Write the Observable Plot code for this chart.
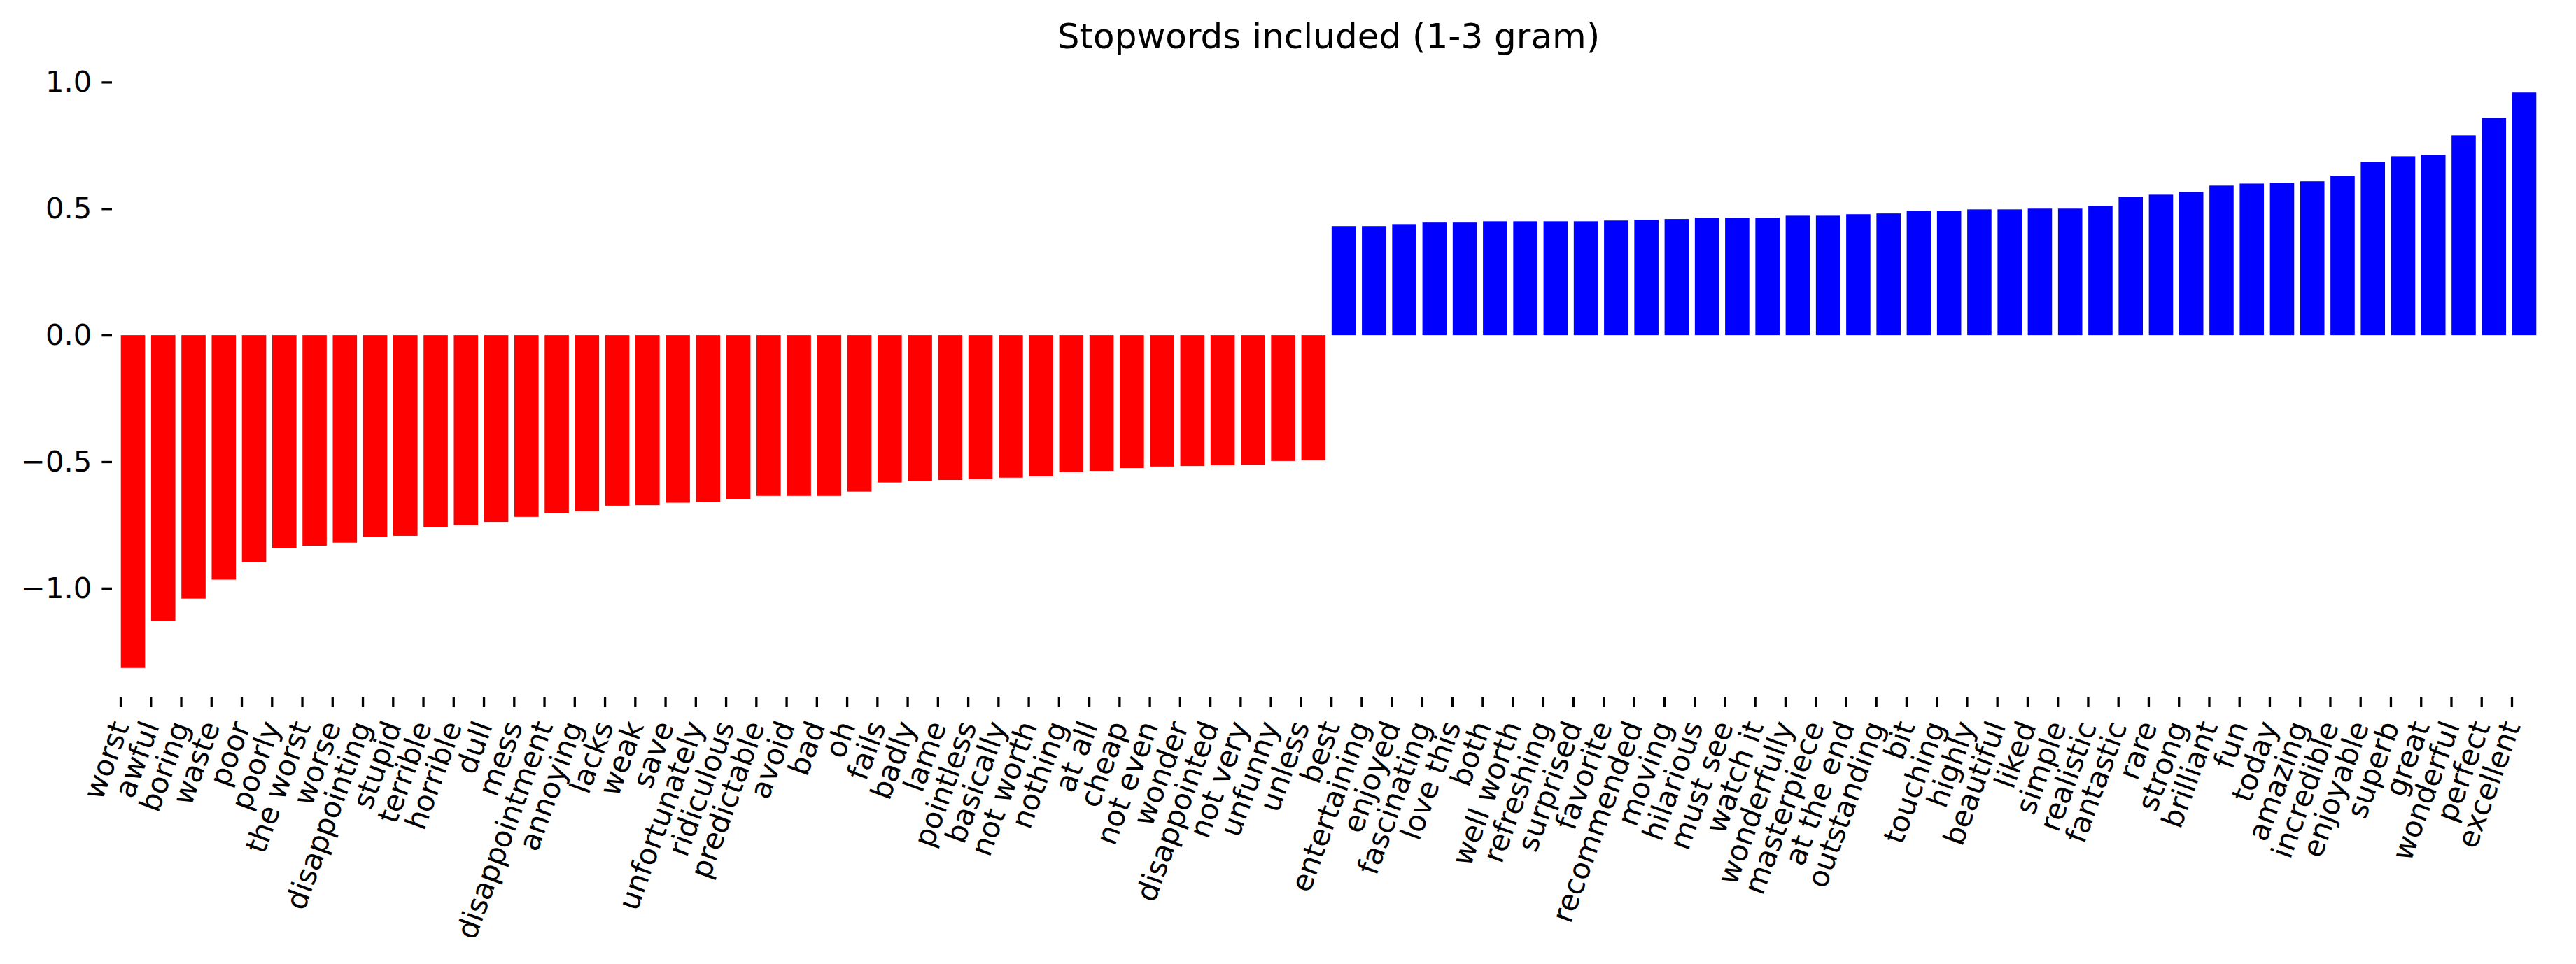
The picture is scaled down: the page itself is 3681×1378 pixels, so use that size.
<!DOCTYPE html>
<html>
<head>
<meta charset="utf-8">
<script src="https://cdn.jsdelivr.net/npm/d3@7"></script>
<script src="https://cdn.jsdelivr.net/npm/@observablehq/plot@0.6"></script>
<style>
  html, body { margin: 0; padding: 0; background: #ffffff; }
  #wrap { position: relative; width: 3681px; height: 1378px; }
  #title {
    position: absolute; top: 24px; left: 160px; width: 3477px;
    text-align: center; font-family: "DejaVu Sans", sans-serif;
    font-size: 50px; line-height: 56px; color: #000;
  }
</style>
</head>
<body>
<div id="wrap">
  <div id="title">Stopwords included (1-3 gram)</div>
</div>
<script>
const words = [
  "worst","awful","boring","waste","poor","poorly","the worst","worse","disappointing","stupid",
  "terrible","horrible","dull","mess","disappointment","annoying","lacks","weak","save","unfortunately",
  "ridiculous","predictable","avoid","bad","oh","fails","badly","lame","pointless","basically",
  "not worth","nothing","at all","cheap","not even","wonder","disappointed","not very","unfunny","unless",
  "best","entertaining","enjoyed","fascinating","love this","both","well worth","refreshing","surprised","favorite",
  "recommended","moving","hilarious","must see","watch it","wonderfully","masterpiece","at the end","outstanding","bit",
  "touching","highly","beautiful","liked","simple","realistic","fantastic","rare","strong","brilliant",
  "fun","today","amazing","incredible","enjoyable","superb","great","wonderful","perfect","excellent"
];
const coefs = [
  -1.315,-1.129,-1.041,-0.966,-0.898,-0.842,-0.832,-0.820,-0.798,-0.793,
  -0.759,-0.751,-0.738,-0.718,-0.704,-0.696,-0.674,-0.672,-0.662,-0.659,
  -0.649,-0.635,-0.635,-0.635,-0.618,-0.582,-0.577,-0.572,-0.569,-0.563,
  -0.558,-0.541,-0.536,-0.525,-0.519,-0.517,-0.514,-0.512,-0.497,-0.495,
  0.431,0.431,0.439,0.445,0.445,0.450,0.450,0.450,0.450,0.453,
  0.456,0.459,0.464,0.464,0.464,0.472,0.472,0.478,0.481,0.492,
  0.492,0.497,0.497,0.500,0.500,0.511,0.547,0.555,0.566,0.591,
  0.599,0.602,0.608,0.630,0.685,0.707,0.713,0.790,0.859,0.959
];
const yTicks = [-1.0, -0.5, 0.0, 0.5, 1.0];
const negColor = "#ff0000";
const posColor = "#0000ff";

const data = words.map((w, i) => ({word: w, value: coefs[i]}));
const fmt = d => (d < 0 ? "\u2212" : "") + Math.abs(d).toFixed(1);

const chart = Plot.plot({
  width: 3681,
  height: 1378,
  marginTop: 91,
  marginBottom: 382,
  marginLeft: 160,
  marginRight: 44,
  style: {fontFamily: "DejaVu Sans", fontSize: "41.7px", background: "#ffffff", color: "#000000"},
  x: {domain: words, paddingInner: 0.2, paddingOuter: 0.294, round: false, label: null},
  y: {domain: [-1.429, 1.073], label: null},
  color: {type: "identity"},
  marks: [
    Plot.barY(data, {x: "word", y: "value", fill: d => d.value < 0 ? negColor : posColor}),
    Plot.axisY({ticks: yTicks, tickFormat: fmt, tickSize: 14.6, tickPadding: 14.6, strokeWidth: 3.3, label: null}),
    Plot.axisX({tickSize: 14.6, tickRotate: -70, tickPadding: 22, dx: -18, strokeWidth: 3.3, label: null})
  ]
});
chart.style.position = "absolute";
chart.style.left = "0px";
chart.style.top = "0px";
document.getElementById("wrap").insertBefore(chart, document.getElementById("title"));
</script>
</body>
</html>
